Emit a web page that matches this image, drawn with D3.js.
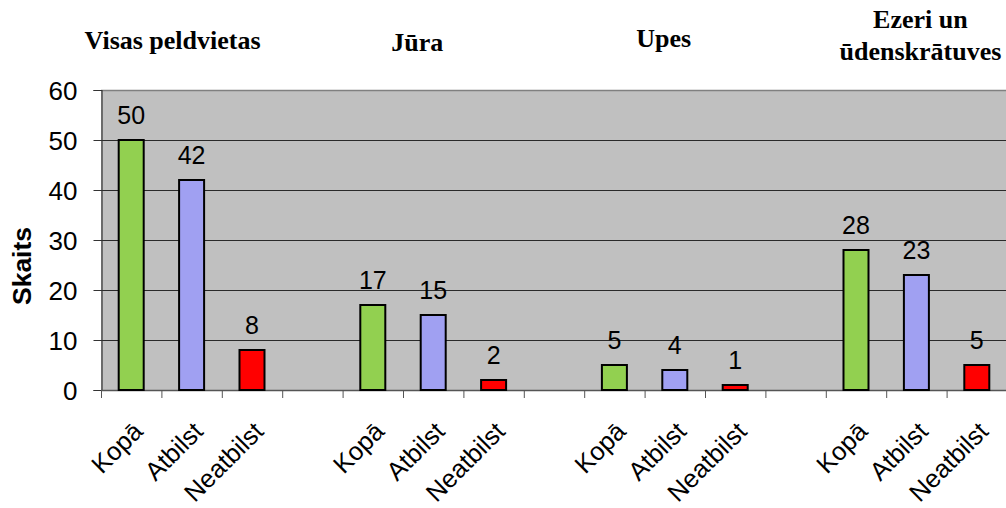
<!DOCTYPE html>
<html>
<head>
<meta charset="utf-8">
<script src="https://cdn.jsdelivr.net/npm/d3@7"></script>
<style>
  html, body { margin: 0; padding: 0; background: #fff; }
  svg { display: block; }
</style>
</head>
<body>
<svg id="chart" width="1006" height="508"></svg>
<script>
// Peldvietu skaits pa ūdenstilpju veidiem
const groups = ["Visas peldvietas", "Jūra", "Upes", "Ezeri un ūdenskrātuves"];
const subcats = ["Kopā", "Atbilst", "Neatbilst"];
const kopa = [50, 17, 5, 28];
const atbilst = [42, 15, 4, 23];
const neatbilst = [8, 2, 1, 5];
const yTicks = [0, 10, 20, 30, 40, 50, 60];
const yTitle = "Skaits";

(function () {
  const series = [kopa, atbilst, neatbilst];
  const colors = ["#92D050", "#A0A0F2", "#FF0000"];

  // one row per bar, with an empty slot between groups
  const slots = [];
  groups.forEach((g, gi) => {
    subcats.forEach((c, ci) => {
      slots.push({ key: gi + "-" + ci, group: gi, cat: c, value: series[ci][gi], color: colors[ci] });
    });
    if (gi < groups.length - 1) slots.push({ key: "gap-" + gi, gap: true });
  });

  const svg = d3.select("#chart");
  const plotLeft = 101, plotTop = 90, plotBottom = 390;
  const slotW = 60.4;
  const plotRight = plotLeft + slots.length * slotW;

  const x = d3.scaleBand().domain(slots.map(d => d.key)).range([plotLeft, plotRight]).padding(0);
  const y = d3.scaleLinear().domain([0, 60]).range([plotBottom, plotTop]);

  const sans = "'Liberation Sans', Arial, sans-serif";
  const serif = "'Liberation Serif', 'Times New Roman', serif";

  // plot background
  svg.append("rect")
    .attr("x", plotLeft).attr("y", plotTop)
    .attr("width", plotRight - plotLeft).attr("height", plotBottom - plotTop)
    .attr("fill", "#C0C0C0");

  // horizontal gridlines
  svg.append("g").selectAll("line")
    .data(yTicks.filter(t => t > 0 && t < 60))
    .join("line")
    .attr("x1", plotLeft).attr("x2", plotRight)
    .attr("y1", d => y(d) + 0.5).attr("y2", d => y(d) + 0.5)
    .attr("stroke", "#2a2a2a").attr("stroke-width", 1);

  // top border of plot area
  svg.append("line")
    .attr("x1", plotLeft).attr("x2", plotRight)
    .attr("y1", plotTop + 0.5).attr("y2", plotTop + 0.5)
    .attr("stroke", "#808080").attr("stroke-width", 1.5);

  // y axis
  const yAxis = d3.axisLeft(y).tickValues(yTicks).tickSize(8).tickPadding(16);
  const gy = svg.append("g").attr("transform", `translate(${plotLeft + 0.5},0)`).call(yAxis);
  gy.select(".domain").attr("stroke", "#333").attr("stroke-width", 1.2);
  gy.selectAll(".tick line").attr("stroke", "#333");
  gy.selectAll(".tick text")
    .attr("font-family", sans).attr("font-size", 26).attr("fill", "#000")
    .attr("dy", "0.36em");

  // x axis: ticks at slot boundaries
  const boundaries = slots.map(d => x(d.key));
  svg.append("line")
    .attr("x1", plotLeft).attr("x2", plotRight)
    .attr("y1", plotBottom + 0.5).attr("y2", plotBottom + 0.5)
    .attr("stroke", "#555").attr("stroke-width", 1.5);
  svg.append("g").selectAll("line")
    .data(boundaries)
    .join("line")
    .attr("x1", d => d + 0.5).attr("x2", d => d + 0.5)
    .attr("y1", plotBottom).attr("y2", plotBottom + 8)
    .attr("stroke", "#555").attr("stroke-width", 1);

  // bars
  const barW = 25;
  const bars = slots.filter(d => !d.gap);
  svg.append("g").selectAll("rect")
    .data(bars)
    .join("rect")
    .attr("x", d => x(d.key) + x.bandwidth() / 2 - barW / 2)
    .attr("y", d => y(d.value))
    .attr("width", barW)
    .attr("height", d => y(0) - y(d.value))
    .attr("fill", d => d.color)
    .attr("stroke", "#000").attr("stroke-width", 2);

  // value labels
  svg.append("g").selectAll("text")
    .data(bars)
    .join("text")
    .attr("x", d => x(d.key) + x.bandwidth() / 2)
    .attr("y", d => y(d.value) - 16)
    .attr("text-anchor", "middle")
    .attr("font-family", sans).attr("font-size", 25).attr("fill", "#000")
    .text(d => d.value);

  // category labels, rotated
  svg.append("g").selectAll("text")
    .data(bars)
    .join("text")
    .attr("transform", d => `translate(${x(d.key) + x.bandwidth() / 2 + 13},${plotBottom + 43}) rotate(-45)`)
    .attr("text-anchor", "end")
    .attr("font-family", sans).attr("font-size", 25.5).attr("fill", "#000")
    .text(d => d.cat);

  // y axis title
  svg.append("text")
    .attr("transform", `translate(31,${(plotTop + plotBottom) / 2 + 26}) rotate(-90)`)
    .attr("text-anchor", "middle")
    .attr("font-family", sans).attr("font-size", 26.5).attr("font-weight", "bold")
    .text(yTitle);

  // group titles above the plot
  const titleLayout = [
    { dx: -19, lines: [49] },
    { dx: -16, lines: [51] },
    { dx: -11, lines: [47] },
    { dx: 4, lines: [28, 60] }
  ];
  groups.forEach((g, gi) => {
    const first = x(gi + "-0"), last = x(gi + "-2") + x.bandwidth();
    const cx = (first + last) / 2 + titleLayout[gi].dx;
    const words = gi === 3 ? ["Ezeri un", "ūdenskrātuves"] : [g];
    words.forEach((w, li) => {
      svg.append("text")
        .attr("x", cx).attr("y", titleLayout[gi].lines[li])
        .attr("text-anchor", "middle")
        .attr("font-family", serif).attr("font-size", 26).attr("font-weight", "bold")
        .attr("fill", "#000")
        .text(w);
    });
  });
})();
</script>
</body>
</html>
